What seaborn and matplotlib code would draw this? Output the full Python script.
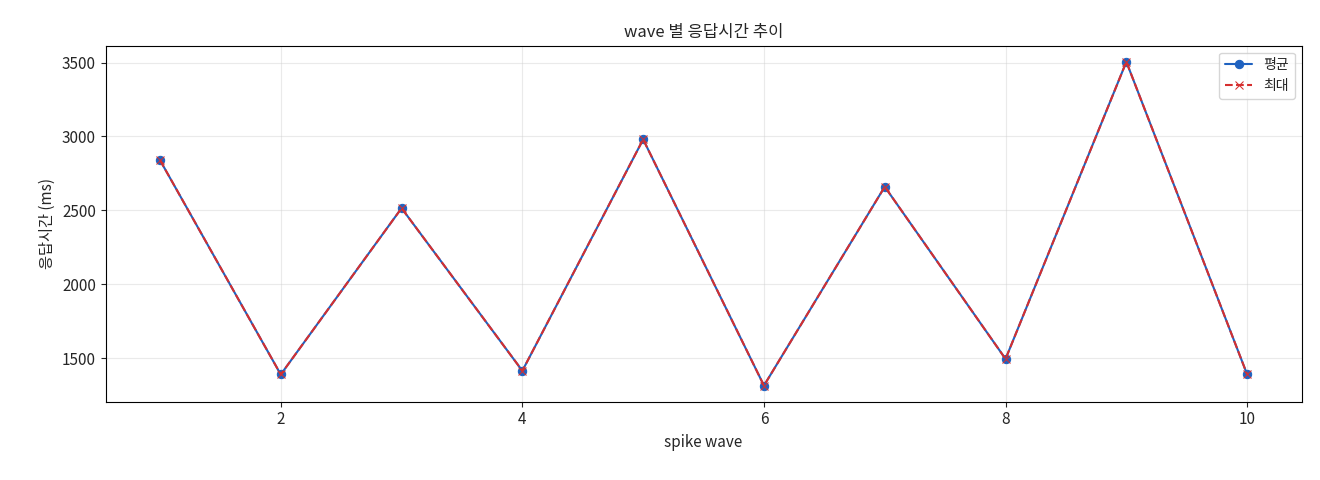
import matplotlib
matplotlib.use("Agg")
import matplotlib.pyplot as plt
import seaborn as sns
import pandas as pd

waves = [1, 2, 3, 4, 5, 6, 7, 8, 9, 10]
mean_ms = [2840, 1390, 2515, 1415, 2980, 1315, 2660, 1495, 3505, 1390]
max_ms = [2840, 1390, 2515, 1415, 2980, 1315, 2660, 1495, 3505, 1390]

sns.set_style("white")
plt.rcParams['font.family'] = ['Noto Sans CJK KR', 'DejaVu Sans']
plt.rcParams['axes.unicode_minus'] = False

df = pd.DataFrame({"wave": waves, "mean": mean_ms, "max": max_ms})
fig, ax = plt.subplots(figsize=(13.2, 4.8), dpi=100)
sns.lineplot(data=df, x="wave", y="mean", ax=ax, color="#1f62c0", linewidth=1.5)
sns.lineplot(data=df, x="wave", y="max", ax=ax, color="#d62f2f", linewidth=1.5)
l1, l2 = ax.lines[0], ax.lines[1]
l1.set_marker("o"); l1.set_markersize(6)
l1.set_markerfacecolor("#1f62c0"); l1.set_markeredgecolor("#1f62c0"); l1.set_label("평균")
l2.set_marker("x"); l2.set_markersize(6); l2.set_linestyle("--")
l2.set_markeredgecolor("#d62f2f"); l2.set_label("최대")
for s in ax.spines.values():
    s.set_color("black"); s.set_linewidth(0.8)
ax.grid(True, alpha=0.4, color="#cccccc")
ax.set_title("wave 별 응답시간 추이", fontsize=12)
ax.set_xlabel("spike wave", fontsize=11)
ax.set_ylabel("응답시간 (ms)", fontsize=11)
ax.tick_params(labelsize=11, length=3.5, left=True, bottom=True)
ax.set_xticks([2, 4, 6, 8, 10])
ax.legend(handles=[l1, l2], loc="upper right", fontsize=10)
plt.subplots_adjust(left=0.08, right=0.986, top=0.905, bottom=0.163)
fig.savefig("out.png")
